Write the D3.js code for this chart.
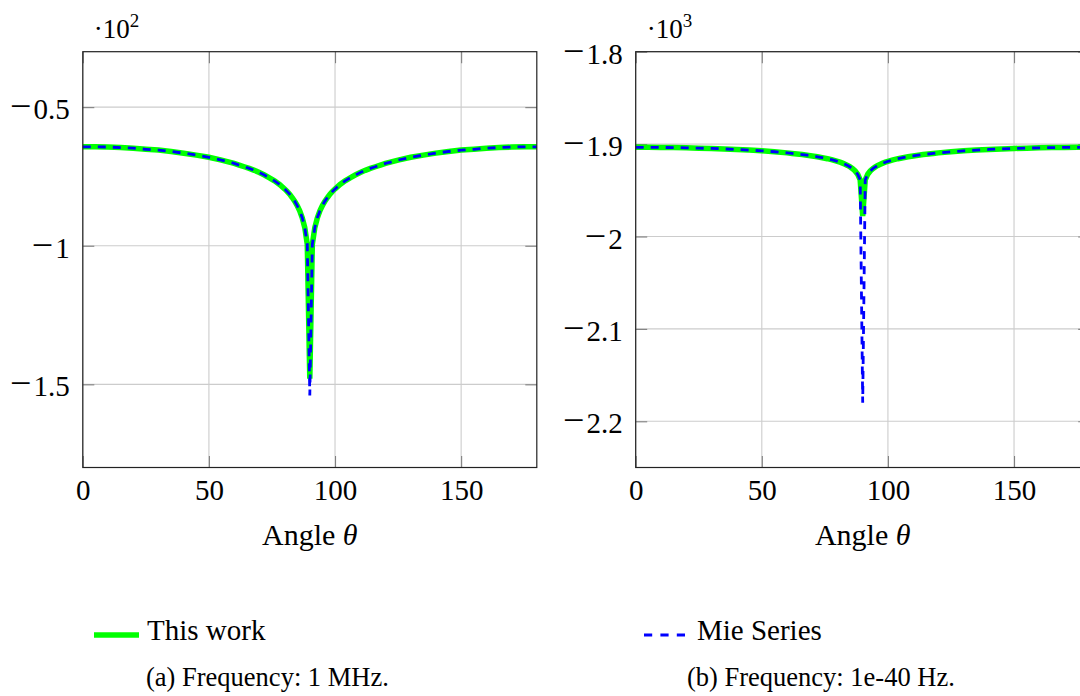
<!DOCTYPE html>
<html>
<head>
<meta charset="utf-8">
<script src="https://cdn.jsdelivr.net/npm/d3@7"></script>
<style>
  body { margin: 0; background: #fff; }
  svg text { font-family: "Liberation Serif", "Times New Roman", serif; fill: #000; }
</style>
</head>
<body>
<div id="viz"></div>
<script>
// angle samples (degrees), shared by both panels
var angles = [0,5,10,15,20,25,30,35,40,45,50,55,60,
  62,64,66,68,70,72,74,76,78,
  80,81,82,83,84,85,86,87,88,89,90,91,92,93,94,95,96,97,98,99,100,
  102,104,106,108,110,112,114,116,118,
  120,125,130,135,140,145,150,155,160,165,170,175,180];

// (a) 1 MHz
var workA = [-64.3,-64.3,-64.4,-64.6,-64.8,-65.2,-65.5,-66.0,-66.6,-67.3,-68.1,-69.1,-70.3,
  -70.9,-71.5,-72.1,-72.8,-73.6,-74.5,-75.5,-76.6,-77.9,
  -79.5,-80.4,-81.4,-82.6,-83.9,-85.5,-87.4,-89.9,-93.4,-99.5,-148.0,-99.5,-93.4,-89.9,-87.4,-85.5,-83.9,-82.6,-81.4,-80.4,-79.5,
  -77.9,-76.6,-75.5,-74.5,-73.6,-72.8,-72.1,-71.5,-70.9,
  -70.3,-69.1,-68.1,-67.3,-66.6,-66.0,-65.5,-65.2,-64.8,-64.6,-64.4,-64.3,-64.3];
var mieA = [-64.3,-64.3,-64.4,-64.6,-64.8,-65.2,-65.5,-66.0,-66.6,-67.3,-68.1,-69.1,-70.3,
  -70.9,-71.5,-72.1,-72.8,-73.6,-74.5,-75.5,-76.6,-77.9,
  -79.5,-80.4,-81.4,-82.6,-83.9,-85.5,-87.4,-89.9,-93.4,-99.5,-154.0,-99.5,-93.4,-89.9,-87.4,-85.5,-83.9,-82.6,-81.4,-80.4,-79.5,
  -77.9,-76.6,-75.5,-74.5,-73.6,-72.8,-72.1,-71.5,-70.9,
  -70.3,-69.1,-68.1,-67.3,-66.6,-66.0,-65.5,-65.2,-64.8,-64.6,-64.4,-64.3,-64.3];

// (b) 1e-40 Hz
var workB = [-1903.5,-1903.5,-1903.6,-1903.8,-1904.0,-1904.4,-1904.7,-1905.2,-1905.8,-1906.5,-1907.3,-1908.3,-1909.5,
  -1910.1,-1910.7,-1911.3,-1912.0,-1912.8,-1913.7,-1914.7,-1915.8,-1917.1,
  -1918.7,-1919.6,-1920.6,-1921.8,-1923.1,-1924.7,-1926.6,-1929.1,-1932.6,-1938.7,-1978.0,-1938.7,-1932.6,-1929.1,-1926.6,-1924.7,-1923.1,-1921.8,-1920.6,-1919.6,-1918.7,
  -1917.1,-1915.8,-1914.7,-1913.7,-1912.8,-1912.0,-1911.3,-1910.7,-1910.1,
  -1909.5,-1908.3,-1907.3,-1906.5,-1905.8,-1905.2,-1904.7,-1904.4,-1904.0,-1903.8,-1903.6,-1903.5,-1903.5];
var mieB = [-1903.5,-1903.5,-1903.6,-1903.8,-1904.0,-1904.4,-1904.7,-1905.2,-1905.8,-1906.5,-1907.3,-1908.3,-1909.5,
  -1910.1,-1910.7,-1911.3,-1912.0,-1912.8,-1913.7,-1914.7,-1915.8,-1917.1,
  -1918.7,-1919.6,-1920.6,-1921.8,-1923.1,-1924.7,-1926.6,-1929.1,-1932.6,-1938.7,-2180.0,-1938.7,-1932.6,-1929.1,-1926.6,-1924.7,-1923.1,-1921.8,-1920.6,-1919.6,-1918.7,
  -1917.1,-1915.8,-1914.7,-1913.7,-1912.8,-1912.0,-1911.3,-1910.7,-1910.1,
  -1909.5,-1908.3,-1907.3,-1906.5,-1905.8,-1905.2,-1904.7,-1904.4,-1904.0,-1903.8,-1903.6,-1903.5,-1903.5];

var xTicks = [0, 50, 100, 150];
var yTicksA = [-50, -100, -150];
var yTicksB = [-1800, -1900, -2000, -2100, -2200];
var seriesNames = ['This work', 'Mie Series'];
var captions = ['(a) Frequency: 1 MHz.', '(b) Frequency: 1e-40 Hz.'];

var svg = d3.select('#viz').append('svg')
  .attr('width', 1080)
  .attr('height', 696);

var plotTop = 51.7, height = 415.8, width = 454;
var tickLen = 11.5;

function drawPanel(left, yDomain, yTicks, exp, work, mie) {
  var x = d3.scaleLinear().domain([0, 180]).range([0, width]);
  var y = d3.scaleLinear().domain(yDomain).range([height, 0]);

  var g = svg.append('g').attr('transform', 'translate(' + left + ',' + plotTop + ')');

  // grid
  g.append('g').selectAll('line').data(xTicks).enter().append('line')
    .attr('x1', d => x(d)).attr('x2', d => x(d))
    .attr('y1', 0).attr('y2', height)
    .attr('stroke', '#cccccc').attr('stroke-width', 1.1);
  g.append('g').selectAll('line').data(yTicks).enter().append('line')
    .attr('x1', 0).attr('x2', width)
    .attr('y1', d => y(d)).attr('y2', d => y(d))
    .attr('stroke', '#cccccc').attr('stroke-width', 1.1);

  // inward ticks on all four sides; y labels get their minus added below
  var fmtY = d => d3.format('~g')(Math.abs(d) / Math.pow(10, exp));
  var axes = [
    g.append('g').attr('transform', 'translate(0,' + height + ')')
      .call(d3.axisBottom(x).tickValues(xTicks).tickSize(-tickLen).tickPadding(12)),
    g.append('g')
      .call(d3.axisTop(x).tickValues(xTicks).tickSize(-tickLen).tickFormat('')),
    g.append('g')
      .call(d3.axisLeft(y).tickValues(yTicks).tickSize(-tickLen).tickPadding(13).tickFormat(fmtY)),
    g.append('g').attr('transform', 'translate(' + width + ',0)')
      .call(d3.axisRight(y).tickValues(yTicks).tickSize(-tickLen).tickFormat(''))
  ];
  axes.forEach(function(a) {
    a.select('.domain').remove();
    a.selectAll('line').attr('stroke', '#808080').attr('stroke-width', 1.1);
    a.selectAll('text')
      .style('font-size', '29px')
      .attr('fill', '#000');
  });
  // TeX-style wide minus in front of the y labels
  axes[2].selectAll('text')
    .attr('dy', '0.4em')
    .each(function() {
      var t = d3.select(this), num = t.text();
      t.text(null);
      t.append('tspan').style('font-size', '38px').text('\u2212');
      t.append('tspan').attr('dx', 2).text(num);
    });

  var line = d3.line()
    .x((d, i) => x(angles[i]))
    .y(d => y(d));

  g.append('path').datum(work)
    .attr('d', line)
    .attr('fill', 'none')
    .attr('stroke', '#00ff00')
    .attr('stroke-width', 5.5);

  g.append('path').datum(mie)
    .attr('d', line)
    .attr('fill', 'none')
    .attr('stroke', '#0000ff')
    .attr('stroke-width', 2.8)
    .attr('stroke-dasharray', '8,7');

  // frame
  g.append('rect')
    .attr('width', width).attr('height', height)
    .attr('fill', 'none')
    .attr('stroke', '#222')
    .attr('stroke-width', 1.2);

  // scale factor label
  var s = g.append('text')
    .attr('x', 11).attr('y', 38.3 - plotTop)
    .style('font-size', '27px');
  s.append('tspan').text('\u00b710');
  s.append('tspan').attr('dy', -11).style('font-size', '19px').text(exp);

  g.append('text')
    .attr('x', width / 2).attr('y', 545 - plotTop)
    .attr('text-anchor', 'middle')
    .style('font-size', '30px')
    .html('Angle <tspan font-style="italic">\u03b8</tspan>');
}

drawPanel(82.8, [-180, -30], yTicksA, 2, workA, mieA);
drawPanel(635.7, [-2250, -1800], yTicksB, 3, workB, mieB);

// legend
var legend = svg.append('g');
legend.append('line')
  .attr('x1', 94).attr('x2', 139).attr('y1', 635).attr('y2', 635)
  .attr('stroke', '#00ff00').attr('stroke-width', 5.5);
legend.append('text').attr('x', 147).attr('y', 640)
  .style('font-size', '29px').text(seriesNames[0]);
legend.append('line')
  .attr('x1', 644).attr('x2', 689).attr('y1', 635).attr('y2', 635)
  .attr('stroke', '#0000ff').attr('stroke-width', 2.8)
  .attr('stroke-dasharray', '8.2,8.2');
legend.append('text').attr('x', 697).attr('y', 640)
  .style('font-size', '29px').text(seriesNames[1]);

// captions
svg.append('text').attr('x', 146).attr('y', 686)
  .style('font-size', '26.5px').text(captions[0]);
svg.append('text').attr('x', 687).attr('y', 686)
  .style('font-size', '26.5px').text(captions[1]);
</script>
</body>
</html>
